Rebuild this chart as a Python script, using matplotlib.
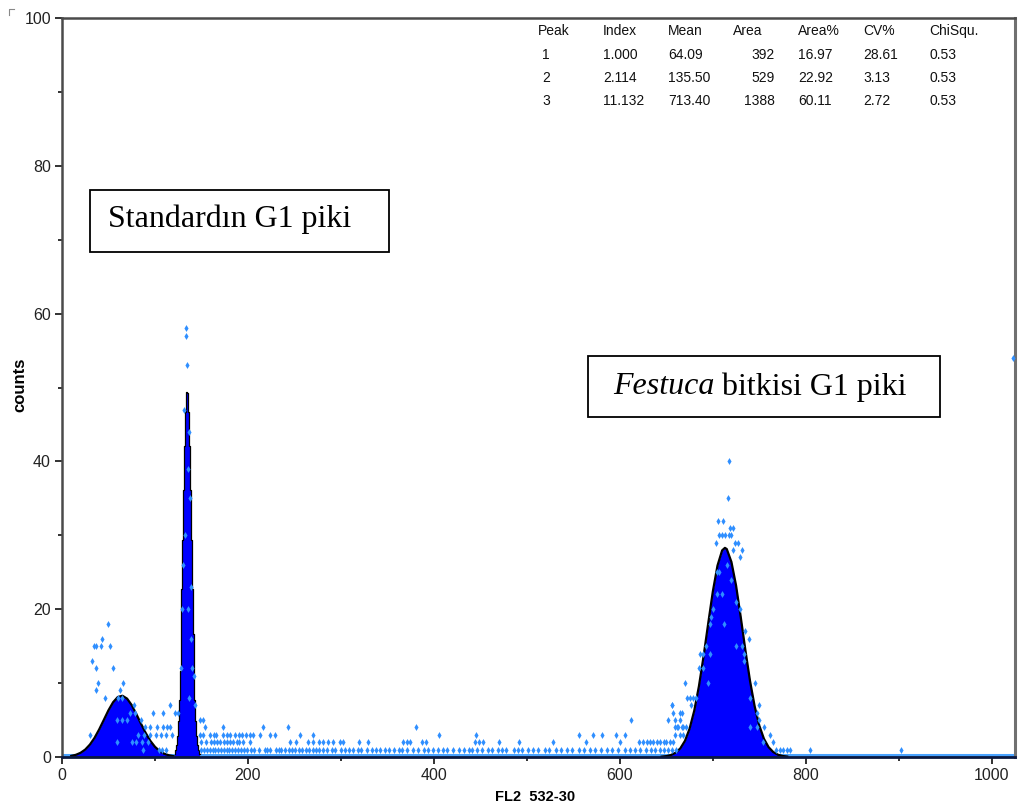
import numpy as np
import matplotlib.pyplot as plt
from matplotlib.ticker import MultipleLocator
from matplotlib.patches import Rectangle
from matplotlib.lines import Line2D

# Fitted peak outlines (channel, counts)
peak1_ch = [10, 15, 20, 25, 30, 35, 40, 45, 50, 55, 60, 65, 70, 75, 80, 85, 90, 95, 100, 105, 110, 115, 120]
peak1_fit = [0.15, 0.30, 0.57, 1.01, 1.68, 2.59, 3.74, 5.03, 6.33, 7.42, 8.12, 8.29, 7.90, 7.02,
             5.80, 4.50, 3.26, 2.19, 1.38, 0.81, 0.44, 0.23, 0.11]

peak2_ch = [121, 122, 123, 124, 125, 126, 127, 128, 129, 130, 131, 132, 133, 134,
            135, 136, 137, 138, 139, 140, 141, 142, 143, 144, 145, 146, 147, 148]
peak2_fit = [0.45, 0.88, 1.63, 2.87, 4.81, 7.66, 11.6, 16.6, 22.7, 29.3, 36.1, 42.1, 46.7, 49.4,
             49.2, 46.7, 42.1, 36.1, 29.3, 22.7, 16.6, 11.6, 7.66, 4.81, 2.87, 1.63, 0.88, 0.45]

peak3_ch = [645, 650, 655, 660, 665, 670, 675, 680, 685, 690, 695, 700, 705, 710, 713,
            715, 720, 725, 730, 735, 740, 745, 750, 755, 760, 765, 770, 775, 780]
peak3_fit = [0.05, 0.12, 0.27, 0.58, 1.16, 2.18, 3.83, 6.26, 9.55, 13.6, 18.06, 22.4, 25.9, 27.96, 28.3,
             28.14, 26.4, 23.2, 18.96, 14.48, 10.3, 6.86, 4.25, 2.46, 1.33, 0.67, 0.31, 0.14, 0.06]

# Raw histogram channels at low counts
row1_ch = [87, 104, 108, 112, 150, 153, 156, 159, 162, 165, 168, 171, 174, 177, 180, 183, 186, 189, 192,
           196, 199, 203, 207, 212, 218, 221, 224, 230, 233, 236, 240, 244, 247, 251, 255, 258, 262,
           266, 270, 273, 276, 281, 285, 290, 294, 300, 304, 309, 313, 318, 322, 328, 333, 338, 342,
           347, 352, 357, 362, 366, 371, 377, 383, 389, 394, 399, 404, 410, 414, 421, 427, 432, 438,
           441, 446, 452, 458, 462, 469, 473, 478, 486, 490, 495, 501, 507, 512, 519, 524, 531, 537,
           543, 548, 556, 561, 568, 573, 580, 586, 592, 598, 605, 611, 616, 622, 628, 633, 638, 643,
           648, 652, 656, 660, 768, 772, 776, 780, 783, 804, 902]
row2_ch = [59, 75, 80, 86, 92, 150, 155, 160, 163, 167, 170, 174, 177, 181, 184, 188, 190, 195, 202,
           245, 252, 265, 270, 276, 281, 286, 292, 299, 302, 319, 329, 367, 371, 374, 387, 392, 444,
           449, 453, 470, 492, 528, 564, 600, 621, 625, 629, 632, 636, 640, 643, 647, 650, 654, 657,
           754, 765]
row3_ch = [30, 82, 88, 95, 101, 106, 112, 118, 148, 152, 159, 163, 166, 173, 177, 181, 186, 190, 194,
           198, 202, 205, 213, 224, 229, 256, 270, 406, 445, 556, 571, 581, 596, 605, 659, 665, 668, 762]
row4_ch = [89, 95, 102, 109, 113, 116, 154, 173, 216, 243, 381, 659, 661, 663, 667, 668, 671, 740, 747, 755]

# Higher-count channels
high_ch = [50, 43, 34, 37, 42, 52, 32, 37, 55, 39, 66, 37, 62, 46, 60, 65, 77, 116, 78, 98, 109, 121, 59,
           64, 70, 73, 85, 143, 148, 152, 125,
           133, 133, 134, 131, 137, 136, 138, 130, 139, 129, 139, 128, 140, 142, 132, 135, 137,
           717, 716, 706, 711, 718, 722, 707, 710, 713, 717, 720, 703, 724, 727, 722, 731, 729, 707, 704,
           710, 725, 729, 698, 697, 735, 739, 693, 731, 686, 689, 697, 733, 733, 685, 689, 670, 745,
           672, 675, 679, 682, 656, 677, 750, 667, 747, 652, 665, 750, 612, 657, 665, 656, 659,
           700, 705, 715, 720, 712, 725, 695, 740, 1023]
high_cnt = [18, 16, 15, 15, 15, 15, 13, 12, 12, 10, 10, 9, 9, 8, 8, 8, 7, 7, 6, 6, 6, 6, 5,
            5, 5, 6, 5, 7, 5, 5, 6,
            58, 57, 53, 47, 44, 39, 35, 26, 23, 20, 16, 12, 12, 11, 30, 20, 8,
            40, 35, 32, 32, 31, 31, 30, 30, 30, 30, 30, 29, 29, 29, 28, 28, 27, 25, 22,
            22, 21, 20, 19, 18, 17, 16, 15, 15, 14, 14, 14, 14, 13, 12, 12, 10, 10,
            8, 8, 8, 8, 7, 7, 7, 6, 6, 5, 5, 5, 5, 6, 6, 7, 5,
            20, 25, 26, 24, 18, 15, 10, 8, 54]

peak_table = [
    ["Peak", "Index", "Mean", "Area", "Area%", "CV%", "ChiSqu."],
    ["1", "1.000", "64.09", "392", "16.97", "28.61", "0.53"],
    ["2", "2.114", "135.50", "529", "22.92", "3.13", "0.53"],
    ["3", "11.132", "713.40", "1388", "60.11", "2.72", "0.53"],
]

W, H = 1022, 808
fig = plt.figure(figsize=(W / 100, H / 100), dpi=100)
ax = fig.add_axes([62 / W, 1 - 757 / H, (1015 - 62) / W, (757 - 18) / H])

blue = '#0000ff'
dot = '#2f8fff'

ax.fill_between(peak1_ch, peak1_fit, color=blue, lw=0, zorder=2)
ax.plot(peak1_ch, peak1_fit, color='black', lw=1.6, zorder=3)
ax.fill_between(peak2_ch, peak2_fit, step='mid', color=blue, lw=0, zorder=2)
ax.plot(peak2_ch, peak2_fit, drawstyle='steps-mid', color='black', lw=0.9, zorder=3)
ax.fill_between(peak3_ch, peak3_fit, color=blue, lw=0, zorder=2)
ax.plot(peak3_ch, peak3_fit, color='black', lw=1.6, zorder=3)

# zero-count channels form a band along the baseline
ax.axhline(0.25, color='#4aa3ff', lw=2.2, zorder=1.5)

kw = dict(ls='none', marker='d', ms=3.5, color=dot, mec='none', zorder=4)
ax.plot(row1_ch, np.ones(len(row1_ch)), **kw)
ax.plot(row2_ch, np.full(len(row2_ch), 2), **kw)
ax.plot(row3_ch, np.full(len(row3_ch), 3), **kw)
ax.plot(row4_ch, np.full(len(row4_ch), 4), **kw)
ax.plot(high_ch, high_cnt, **kw)

ax.set_xlim(0, 1025)
ax.set_ylim(0, 100)
ax.xaxis.set_major_locator(MultipleLocator(200))
ax.xaxis.set_minor_locator(MultipleLocator(100))
ax.yaxis.set_major_locator(MultipleLocator(20))
ax.yaxis.set_minor_locator(MultipleLocator(10))
ax.tick_params(which='major', direction='out', length=5, width=1.3, labelsize=11.5, pad=3,
               colors='#222222')
ax.tick_params(which='minor', direction='out', length=3, width=1.3, colors='#222222')
for lab in ax.get_xticklabels() + ax.get_yticklabels():
    lab.set_fontfamily('Liberation Sans')

for side in ['left', 'top']:
    ax.spines[side].set_color('#4a4a4a')
    ax.spines[side].set_linewidth(1.8)
ax.spines['right'].set_color('#707070')
ax.spines['right'].set_linewidth(2.2)
ax.spines['bottom'].set_color('#0a1840')
ax.spines['bottom'].set_linewidth(2.0)
ax.spines['bottom'].set_zorder(5)


def fx(px):
    return px / W


def fy(py):
    return 1 - py / H


# axis titles
fig.text(fx(535), fy(797), 'FL2  532-30', ha='center', va='center', fontsize=10.5,
         fontweight='bold', family='Liberation Sans')
fig.text(fx(20), fy(385), 'counts', ha='center', va='center', rotation=90, fontsize=12,
         fontweight='bold', family='Liberation Sans')

# peak statistics table
col_x = [546, 603, 668, 775, 798, 863, 929]
row_y = [31, 55, 78, 101]
for r, row in enumerate(peak_table):
    for c, txt in enumerate(row):
        ha = 'left'
        x = col_x[c]
        if c == 0 and r > 0:
            ha = 'center'
        if c == 0 and r == 0:
            x = 538
        if c == 3:
            ha = 'right' if r > 0 else 'left'
            x = 775 if r > 0 else 733
        fig.text(fx(x), fy(row_y[r]), txt, ha=ha, va='center', fontsize=10,
                 family='Liberation Sans', color='#111111')

# annotation boxes
fig.patches.append(Rectangle((fx(90), fy(252)), fx(389) - fx(90), fy(190) - fy(252),
                             transform=fig.transFigure, fc='white', ec='black', lw=1.3, zorder=6))
fig.text(fx(108), fy(219), 'Standardın G1 piki', ha='left', va='center', fontsize=23,
         family='Liberation Serif', zorder=7)

fig.patches.append(Rectangle((fx(588), fy(417)), fx(940) - fx(588), fy(356) - fy(417),
                             transform=fig.transFigure, fc='white', ec='black', lw=1.3, zorder=6))
t1 = fig.text(fx(613), fy(387), 'Festuca', ha='left', va='center', fontsize=23,
              family='Liberation Serif', style='italic', zorder=7)
fig.canvas.draw()
bb = t1.get_window_extent().transformed(fig.transFigure.inverted())
fig.text(bb.x1, fy(387), ' bitkisi G1 piki', ha='left', va='center', fontsize=23,
         family='Liberation Serif', zorder=7)

# small corner mark
fig.add_artist(Line2D([fx(9), fx(9), fx(14)], [fy(15), fy(9), fy(9)], color='#888888', lw=0.8))

fig.savefig('out.png', dpi=100)
